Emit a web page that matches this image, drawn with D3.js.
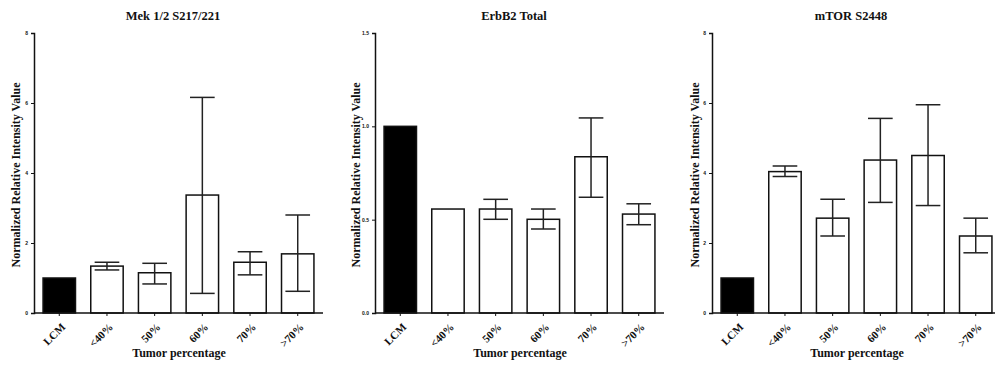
<!DOCTYPE html>
<html><head><meta charset="utf-8">
<script src="https://cdn.jsdelivr.net/npm/d3@7/dist/d3.min.js"></script>
<style>
body{margin:0;background:#fff;}
svg{display:block;}
text{font-family:"Liberation Serif","Times New Roman",serif;font-weight:bold;fill:#111;}
</style></head>
<body>
<svg id="chart" width="995" height="370"></svg>
<script>
const categories = ["LCM", "<40%", "50%", "60%", "70%", ">70%"];

const mekValues = [1.0, 1.34, 1.15, 3.37, 1.45, 1.69];
const mekErrHigh = [null, 1.45, 1.42, 6.16, 1.75, 2.80];
const mekErrLow  = [null, 1.23, 0.83, 0.56, 1.09, 0.62];
const mekTicks = [0, 2, 4, 6, 8];

const erbValues = [1.0, 0.557, 0.557, 0.502, 0.837, 0.53];
const erbErrHigh = [null, null, 0.609, 0.557, 1.045, 0.585];
const erbErrLow  = [null, null, 0.502, 0.45, 0.62, 0.473];
const erbTicks = [0.0, 0.5, 1.0, 1.5];

const mtorValues = [1.0, 4.04, 2.71, 4.37, 4.5, 2.2];
const mtorErrHigh = [null, 4.2, 3.25, 5.56, 5.95, 2.71];
const mtorErrLow  = [null, 3.9, 2.2, 3.16, 3.07, 1.72];
const mtorTicks = [0, 2, 4, 6, 8];

const panels = [
  {title: "Mek 1/2 S217/221", values: mekValues, hi: mekErrHigh, lo: mekErrLow, ticks: mekTicks, max: 8, fmt: d3.format("d"),
   x0: 34, labelX: 20},
  {title: "ErbB2 Total", values: erbValues, hi: erbErrHigh, lo: erbErrLow, ticks: erbTicks, max: 1.5, fmt: d3.format(".1f"),
   x0: 375, labelX: 360},
  {title: "mTOR S2448", values: mtorValues, hi: mtorErrHigh, lo: mtorErrLow, ticks: mtorTicks, max: 8, fmt: d3.format("d"),
   x0: 712, labelX: 699}
];

const svg = d3.select("#chart");
const yTop = 33, yBot = 313, span = 289;

panels.forEach(p => {
  const g = svg.append("g");
  const x1 = p.x0 + span;
  const y = d3.scaleLinear().domain([0, p.max]).range([yBot, yTop]);
  const x = d3.scaleBand().domain(categories).range([p.x0, x1]).paddingInner(0.32).paddingOuter(0.19);

  // bars
  g.selectAll("rect.bar").data(p.values).enter().append("rect")
    .attr("x", (d, i) => x(categories[i]))
    .attr("y", d => y(d))
    .attr("width", x.bandwidth())
    .attr("height", d => yBot - y(d))
    .attr("fill", (d, i) => i === 0 ? "#000" : "#fff")
    .attr("stroke", "#111").attr("stroke-width", 1.5);

  // error bars
  const capW = x.bandwidth() * 0.76;
  p.values.forEach((v, i) => {
    if (p.hi[i] == null) return;
    const cx = x(categories[i]) + x.bandwidth() / 2;
    g.append("line").attr("x1", cx).attr("x2", cx).attr("y1", y(p.hi[i])).attr("y2", y(p.lo[i]))
      .attr("stroke", "#222").attr("stroke-width", 1.5);
    [p.hi[i], p.lo[i]].forEach(e => {
      g.append("line").attr("x1", cx - capW / 2).attr("x2", cx + capW / 2).attr("y1", y(e)).attr("y2", y(e))
        .attr("stroke", "#222").attr("stroke-width", 1.5);
    });
  });

  // y axis
  const yAxis = d3.axisLeft(y).tickValues(p.ticks).tickFormat(p.fmt).tickSize(3).tickPadding(3);
  const ya = g.append("g").attr("transform", `translate(${p.x0},0)`).call(yAxis);
  ya.select(".domain").attr("stroke", "#111").attr("stroke-width", 1.5);
  ya.selectAll(".tick line").attr("stroke", "#111");
  ya.selectAll("text").style("font-size", "5px").style("font-family", "Liberation Sans, Arial, sans-serif").attr("fill", "#333");

  // x axis
  const xAxis = d3.axisBottom(x).tickSize(3).tickSizeOuter(0).tickPadding(0);
  const xa = g.append("g").attr("transform", `translate(0,${yBot})`).call(xAxis);
  xa.select(".domain").attr("d", `M${p.x0},0H${x1}`).attr("stroke", "#111").attr("stroke-width", 1.5);
  xa.selectAll(".tick line").attr("stroke", "#111");
  xa.selectAll("text")
    .style("font-size", "11px")
    .attr("text-anchor", "end")
    .attr("y", 0).attr("dy", "0.35em").attr("dx", "0")
    .attr("transform", "translate(4,12) rotate(-45)");

  // title
  g.append("text").attr("x", p.x0 + 139).attr("y", 20).attr("text-anchor", "middle")
    .style("font-size", "12.5px").text(p.title);

  // x title
  g.append("text").attr("x", p.x0 + 145).attr("y", 357).attr("text-anchor", "middle")
    .style("font-size", "12px").text("Tumor percentage");

  // y title
  g.append("text").attr("transform", `translate(${p.labelX},175) rotate(-90)`).attr("text-anchor", "middle")
    .style("font-size", "12px").text("Normalized Relative Intensity Value");
});
</script>
</body></html>
